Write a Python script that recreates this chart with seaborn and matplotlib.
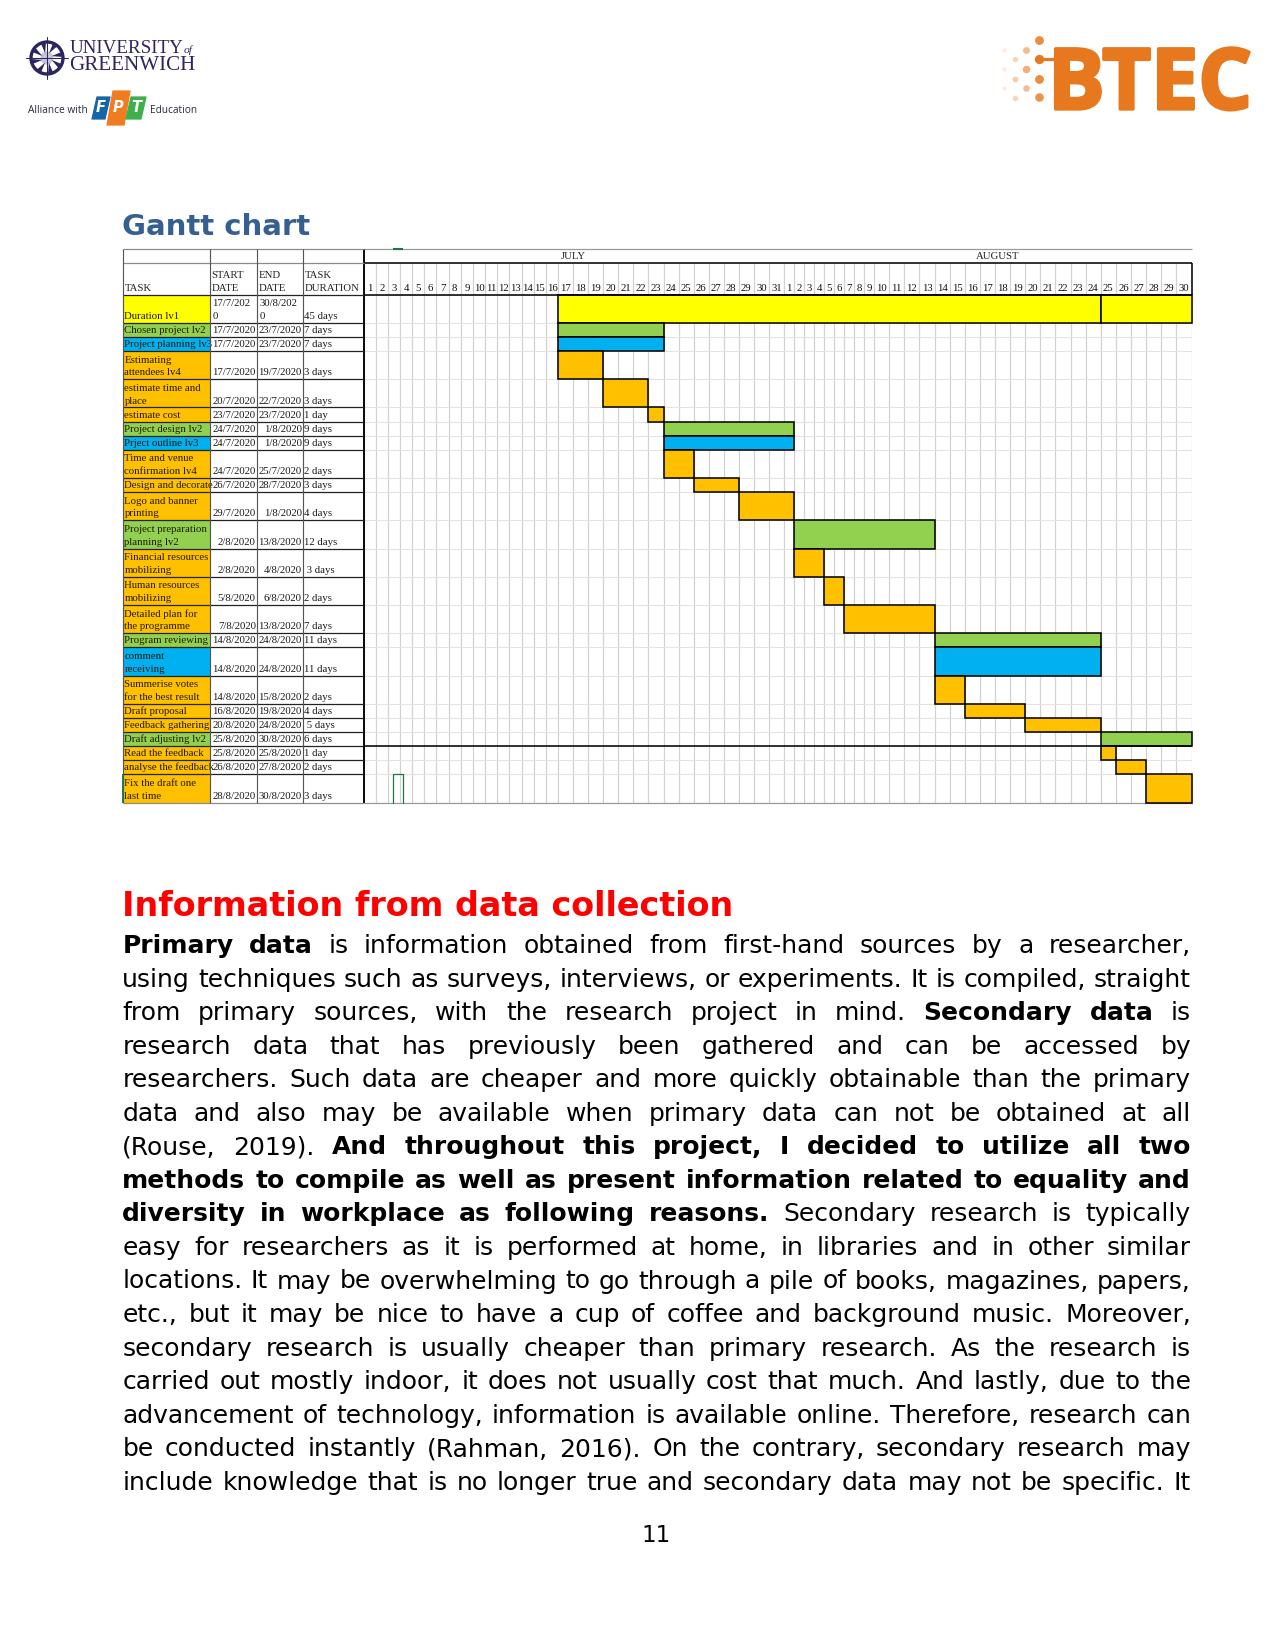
import numpy as np
import pandas as pd
import matplotlib
matplotlib.use("Agg")
import matplotlib.pyplot as plt
import matplotlib.patheffects as pe
from matplotlib.patches import Circle, Polygon, Rectangle
import seaborn as sns

# ---------- data ----------
tasks = ["Duration lv1", "Chosen project lv2", "Project planning lv3", "Estimating\nattendees lv4",
         "estimate time and\nplace", "estimate cost", "Project design lv2", "Prject outline lv3",
         "Time and venue\nconfirmation lv4", "Design and decorate", "Logo and banner\nprinting",
         "Project preparation\nplanning lv2", "Financial resources\nmobilizing", "Human resources\nmobilizing",
         "Detailed plan for\nthe programme", "Program reviewing", "comment\nreceiving",
         "Summerise votes\nfor the best result", "Draft proposal", "Feedback gathering",
         "Draft adjusting lv2", "Read the feedback", "analyse the feedback", "Fix the draft one\nlast time"]
levels = [1, 2, 3, 4, 4, 4, 2, 3, 4, 4, 4, 2, 4, 4, 4, 2, 3, 4, 4, 4, 2, 4, 4, 4]
start_dates = ["17/7/2020", "17/7/2020", "17/7/2020", "17/7/2020", "20/7/2020", "23/7/2020", "24/7/2020", "24/7/2020",
               "24/7/2020", "26/7/2020", "29/7/2020", "2/8/2020", "2/8/2020", "5/8/2020", "7/8/2020", "14/8/2020",
               "14/8/2020", "14/8/2020", "16/8/2020", "20/8/2020", "25/8/2020", "25/8/2020", "26/8/2020", "28/8/2020"]
end_dates = ["30/8/2020", "23/7/2020", "23/7/2020", "19/7/2020", "22/7/2020", "23/7/2020", "1/8/2020", "1/8/2020",
             "25/7/2020", "28/7/2020", "1/8/2020", "13/8/2020", "4/8/2020", "6/8/2020", "13/8/2020", "24/8/2020",
             "24/8/2020", "15/8/2020", "19/8/2020", "24/8/2020", "30/8/2020", "25/8/2020", "27/8/2020", "30/8/2020"]
durations = ["45 days", "7 days", "7 days", "3 days", "3 days", "1 day", "9 days", "9 days", "2 days", "3 days",
             "4 days", "12 days", " 3 days", "2 days", "7 days", "11 days", "11 days", "2 days", "4 days", " 5 days",
             "6 days", "1 day", "2 days", "3 days"]
july_days = list(range(1, 32))
august_days = list(range(1, 31))
months = ["JULY", "AUGUST"]
split_date = "25/8/2020"
level_palette = sns.color_palette(["#FFFF00", "#92D050", "#00B0F0", "#FFC000"])

title_text = "Gantt chart"
heading_text = "Information from data collection"
page_number = "11"
body_lines = [
    "**Primary data** is information obtained from first-hand sources by a researcher,",
    "using techniques such as surveys, interviews, or experiments. It is compiled, straight",
    "from primary sources, with the research project in mind. **Secondary data** is",
    "research data that has previously been gathered and can be accessed by",
    "researchers. Such data are cheaper and more quickly obtainable than the primary",
    "data and also may be available when primary data can not be obtained at all",
    "(Rouse, 2019). **And throughout this project, I decided to utilize all two**",
    "**methods to compile as well as present information related to equality and**",
    "**diversity in workplace as following reasons.** Secondary research is typically",
    "easy for researchers as it is performed at home, in libraries and in other similar",
    "locations. It may be overwhelming to go through a pile of books, magazines, papers,",
    "etc., but it may be nice to have a cup of coffee and background music. Moreover,",
    "secondary research is usually cheaper than primary research. As the research is",
    "carried out mostly indoor, it does not usually cost that much. And lastly, due to the",
    "advancement of technology, information is available online. Therefore, research can",
    "be conducted instantly (Rahman, 2016). On the contrary, secondary research may",
    "include knowledge that is no longer true and secondary data may not be specific. It",
]

# ---------- setup ----------
sns.set_theme(style="white")
plt.rcParams["font.family"] = ["DejaVu Sans"]
W, H = 1275, 1650
fig = plt.figure(figsize=(W / 150, H / 150), dpi=150, facecolor="white")


def axes_px(l, t, r, b, **kw):
    return fig.add_axes([l / W, 1 - b / H, (r - l) / W, (b - t) / H], **kw)


page = axes_px(0, 0, W, H)
page.set_xlim(0, W)
page.set_ylim(H, 0)
page.set_axis_off()

# ---------- gantt geometry ----------
T_L, G_L, G_R, G_T, G_B = 123.0, 363.5, 1191.5, 249.0, 802.5
HEAD_B = 294.6
row_lines = np.array([t.count("\n") + 1 for t in tasks])
row_lines[0] = 2
row_edges = np.concatenate([[0], np.cumsum(row_lines)])
n_lines = row_edges[-1]
line_px = (G_B - HEAD_B) / n_lines
head_top = -(HEAD_B - G_T) / line_px
head_mid = -(HEAD_B - 263.0) / line_px

ref = pd.Timestamp(2020, 7, 1)
to_idx = lambda s: (pd.to_datetime(s, dayfirst=True) - ref).days
starts = np.array([to_idx(s) for s in start_dates])
ends = np.array([to_idx(s) + 1 for s in end_dates])

day_w = np.repeat([12.16, 15.07, 10.0, 15.12], [16, 15, 9, 21])
day_edges = np.concatenate([[0], np.cumsum(day_w)])
all_days = np.arange(len(day_edges))

gax = axes_px(G_L, G_T, G_R, G_B)
gax.set_xscale("function", functions=(lambda d: np.interp(d, all_days, day_edges),
                                      lambda p: np.interp(p, day_edges, all_days)))
gax.set_xlim(0, len(day_w))
gax.set_ylim(n_lines, head_top)
gax.set_axis_off()

GRID = "#d2d2d2"
gax.vlines(all_days, head_mid, n_lines, color=GRID, lw=0.6, zorder=1)
gax.hlines(row_edges, 0, len(day_w), color="#e2e2e2", lw=0.5, zorder=1)

for i, (s, e, lv) in enumerate(zip(starts, ends, levels)):
    y0, h = row_edges[i], row_lines[i]
    pieces = [(s, e)]
    if lv == 1:
        pieces = [(s, to_idx(split_date)), (to_idx(split_date), e)]
    for a, b in pieces:
        gax.barh(y0, b - a, left=a, height=h, align="edge", color=level_palette[lv - 1],
                 edgecolor="black", lw=0.75, zorder=3, clip_on=False)

gax.hlines([head_mid, 0, row_edges[21]], 0, len(day_w), color="black", lw=0.75, zorder=4)
gax.hlines([head_top, n_lines], 0, len(day_w), color="#9a9a9a", lw=0.6, zorder=2, clip_on=False)
gax.vlines([0], head_top, n_lines, color="black", lw=0.9, zorder=4, clip_on=False)
gax.vlines([len(day_w)], head_mid, 0, color="black", lw=0.75, zorder=4, clip_on=False)

SERIF = "Liberation Serif"
TS = 5.15
day_labels = july_days + august_days
for i, d in enumerate(day_labels):
    gax.text(i + 0.5, -0.14, str(d), ha="center", va="bottom", family=SERIF, fontsize=TS, color="#111111", zorder=5)
gax.text(17.0, head_top + 0.55, months[0], ha="center", va="center", family=SERIF, fontsize=TS, color="#222222")
gax.text(48.15, head_top + 0.55, months[1], ha="center", va="center", family=SERIF, fontsize=TS, color="#222222")

# selection marker of the spreadsheet
SEL = "#217346"
sel_a, sel_b = 2.45, 3.25
gax.plot([sel_a, sel_a, sel_b, sel_b], [n_lines, row_edges[23], row_edges[23], n_lines], color=SEL, lw=0.6, zorder=6, clip_on=False)
gax.hlines(head_top, sel_a, sel_b, color=SEL, lw=1.0, zorder=6, clip_on=False)

# ---------- table ----------
tax = axes_px(T_L, G_T, G_L, G_B)
tax.set_xlim(0, G_L - T_L)
tax.set_ylim(n_lines, head_top)
tax.set_axis_off()
col_edges = [0, 87, 134, 180, G_L - T_L]
LS = 1.55
for i, (lab, sd, ed, du, lv) in enumerate(zip(tasks, start_dates, end_dates, durations, levels)):
    y0, h = row_edges[i], row_lines[i]
    cell = Rectangle((0, y0), col_edges[1], h, fc=level_palette[lv - 1], ec="none", zorder=1)
    tax.add_patch(cell)
    base = y0 + h - 0.13
    tx = tax.text(1.5, base, lab, ha="left", va="bottom", family=SERIF, fontsize=TS, color="#201a00", linespacing=LS, zorder=3)
    tx.set_clip_path(cell)
    if lv == 1:
        for c, s in zip(col_edges[1:3], (sd, ed)):
            tax.text(c + 2.5, base, s[:8] + "\n" + s[8:], ha="left", va="bottom", family=SERIF, fontsize=TS, color="#1a1a1a", linespacing=LS, zorder=3)
    else:
        tax.text(col_edges[2] - 1.2, base, sd, ha="right", va="bottom", family=SERIF, fontsize=TS, color="#1a1a1a", zorder=3)
        tax.text(col_edges[3] - 1.2, base, ed, ha="right", va="bottom", family=SERIF, fontsize=TS, color="#1a1a1a", zorder=3)
    tax.text(col_edges[3] + 1.5, base, du, ha="left", va="bottom", family=SERIF, fontsize=TS, color="#1a1a1a", zorder=3)

tax.hlines(row_edges[1:-1], 0, col_edges[-1], color="#222222", lw=0.6, zorder=4)
tax.hlines([head_mid, head_top, n_lines], 0, col_edges[-1], color="#8c8c8c", lw=0.6, zorder=4, clip_on=False)
tax.hlines(0, 0, col_edges[-1], color="#222222", lw=0.6, zorder=4)
tax.vlines(col_edges[:-1], head_top, n_lines, color="#555555", lw=0.55, zorder=4, clip_on=False)
tax.vlines(0, row_edges[23], n_lines, color=SEL, lw=0.9, zorder=5, clip_on=False)
for x, lines in zip(col_edges[:4], (["", "TASK"], ["START", "DATE"], ["END", "DATE"], ["TASK", "DURATION"])):
    tax.text(x + 1.5, -0.13, "\n".join(lines), ha="left", va="bottom", family=SERIF, fontsize=TS, color="#222222", linespacing=LS, zorder=5)

# ---------- page text ----------
page.text(122, 227, title_text, color="#365F91", fontsize=14, fontweight="bold", va="center", ha="left")
page.text(122, 907, heading_text, color="#FF0000", fontsize=16, fontweight="bold", va="center", ha="left")
page.text(656, 1535.5, page_number, color="black", fontsize=11, va="center", ha="center")

renderer = fig.canvas.get_renderer()
BL, BR, BY0, DY = 122.3, 1191.0, 953.2, 33.53
for li, line in enumerate(body_lines):
    parts = line.split("**")
    words = []
    for k, part in enumerate(parts):
        words += [(w, k % 2 == 1) for w in part.split()]
    arts = [page.text(0, BY0 + li * DY, w, fontsize=12, fontweight="bold" if b else "normal",
                      ha="left", va="baseline", color="black") for w, b in words]
    widths = [a.get_window_extent(renderer).width for a in arts]
    gap = (BR - BL - sum(widths)) / (len(words) - 1)
    x = BL
    for a, w in zip(arts, widths):
        a.set_x(x)
        x += w + gap

# ---------- logos ----------
NAVY = "#2B2560"
cx, cy = 47, 58
page.add_patch(Circle((cx, cy), 16, fc="none", ec=NAVY, lw=1.6))
page.add_patch(Circle((cx, cy), 6.5, fc="#c9c6d8", ec="none"))
for k in range(8):
    a = k * np.pi / 4 + np.pi / 8
    b = a + 0.32
    page.add_patch(Polygon([(cx + 5 * np.cos(a), cy + 5 * np.sin(a)), (cx + 15 * np.cos(a), cy + 15 * np.sin(a)),
                            (cx + 15 * np.cos(b), cy + 15 * np.sin(b))], fc=NAVY, ec="none"))
for k in range(4):
    a = k * np.pi / 2
    page.plot([cx, cx + 21 * np.cos(a)], [cy, cy + 21 * np.sin(a)], color=NAVY, lw=0.5)
page.text(69.5, 48.5, "UNIVERSITY", family=SERIF, fontsize=9.1, color=NAVY, va="center", ha="left")
page.text(183.5, 50, "of", family=SERIF, style="italic", fontsize=5.5, color=NAVY, va="center", ha="left")
page.text(69.5, 66, "GREENWICH", family=SERIF, fontsize=10.1, color=NAVY, va="center", ha="left")
page.text(28, 110.5, "Alliance with", family="Open Sans", fontsize=4.85, color="#2a2a40", va="center", ha="left")
page.text(150, 110.5, "Education", family="Open Sans", fontsize=4.85, color="#2a2a40", va="center", ha="left")
for pts, col, ch, tx in [([(97, 97), (110, 97), (105, 119), (92, 119)], "#1565A8", "F", 101),
                         ([(113, 91), (130, 91), (124, 125), (107, 125)], "#F07C22", "P", 118.5),
                         ([(131, 97), (146, 97), (141, 119), (126, 119)], "#3EAF4A", "T", 136)]:
    page.add_patch(Polygon(pts, fc=col, ec=col, lw=0.6, joinstyle="round"))
    page.text(tx, (pts[0][1] + pts[2][1]) / 2, ch, color="white", style="italic", fontweight="bold",
              fontsize=7, va="center", ha="center")

ORANGE = "#E8781E"
page.text(1048, 87, "BTEC", family="Open Sans", fontweight="bold", fontsize=40.5, color=ORANGE, va="center", ha="left",
          path_effects=[pe.withStroke(linewidth=1.6, foreground=ORANGE)])
dot_x = [1039, 1026, 1004, 1039, 1015, 1026, 1004, 1039, 1015, 1026, 1004, 1039, 1015]
dot_y = [40, 50, 50, 59, 59, 69, 69, 79, 79, 88, 88, 97, 98]
dot_s = [18, 11, 4, 20, 7, 13, 4, 18, 8, 10, 4, 17, 7]
dot_a = [0.85, 0.5, 0.15, 1.0, 0.3, 0.6, 0.15, 0.85, 0.35, 0.5, 0.15, 0.8, 0.3]
for x, y, s, a in zip(dot_x, dot_y, dot_s, dot_a):
    page.scatter([x], [y], s=s, color=ORANGE, alpha=a, linewidths=0)
page.plot([1039, 1054], [59, 59], color=ORANGE, lw=1.5)

sns.despine(fig=fig, left=True, bottom=True)
fig.savefig("out.png", dpi=150, facecolor="white")
